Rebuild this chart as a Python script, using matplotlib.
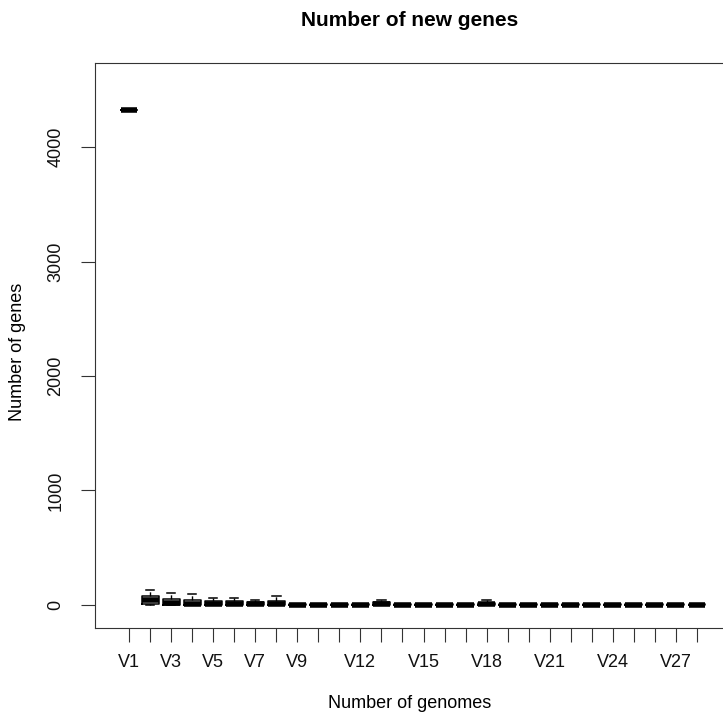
import matplotlib
matplotlib.use("Agg")
import matplotlib.pyplot as plt

plt.rcParams['font.family'] = ['Liberation Sans', 'DejaVu Sans']

genomes = ["V1", "V2", "V3", "V4", "V5", "V6", "V7", "V8", "V9", "V10",
           "V11", "V12", "V13", "V14", "V15", "V16", "V17", "V18", "V19", "V20",
           "V21", "V22", "V23", "V24", "V25", "V26", "V27", "V28"]
shown_labels = ["V1", "V3", "V5", "V7", "V9", "V12", "V15", "V18", "V21", "V24", "V27"]

whisker_low = [4323, 0, 0, 0, 0, 0, 0, 0, 0, 0,
               0, 0, 0, 0, 0, 0, 0, 0, 0, 0,
               0, 0, 0, 0, 0, 0, 0, 0]
q1 = [4323, 8, 3, 3, 3, 3, 2, 3, 0, 0,
      0, 0, 0, 0, 0, 0, 0, 0, 0, 0,
      0, 0, 0, 0, 0, 0, 0, 0]
median = [4323, 40, 15, 12, 10, 10, 8, 10, 4, 4,
          4, 4, 5, 3, 4, 3, 4, 5, 4, 4,
          3, 3, 4, 3, 3, 3, 3, 3]
q3 = [4323, 82, 52, 44, 35, 35, 26, 35, 10, 12,
      10, 12, 22, 8, 12, 8, 12, 20, 12, 10,
      8, 8, 12, 8, 8, 8, 8, 8]
whisker_high = [4323, 135, 105, 98, 64, 64, 44, 82, 10, 12,
                10, 12, 43, 8, 12, 8, 12, 43, 12, 10,
                8, 8, 12, 8, 8, 8, 8, 8]

W, H = 723, 719
fig = plt.figure(figsize=(W / 100, H / 100), dpi=100)
left, right, top, bottom = 95, 731, 63, 628
ax = fig.add_axes([left / W, 1 - bottom / H, (right - left) / W, (bottom - top) / H])

stats = []
for name, lo, a, m, b, hi in zip(genomes, whisker_low, q1, median, q3, whisker_high):
    stats.append(dict(label=name, whislo=lo, q1=a, med=m, q3=b, whishi=hi, fliers=[]))

positions = list(range(1, len(genomes) + 1))
ax.bxp(stats, positions=positions, widths=0.8, showfliers=False,
       boxprops=dict(color='black', linewidth=1.1),
       medianprops=dict(color='black', linewidth=4.0, solid_capstyle='butt'),
       whiskerprops=dict(color='black', linewidth=1.0, linestyle=(0, (3, 3))),
       capprops=dict(color='black', linewidth=1.1),
       capwidths=0.4)

n = len(genomes)
ax.set_xlim(0.5 - 0.04 * n, n + 0.5 + 0.04 * n)
ax.set_ylim(-201, 4734)
ax.set_xticks(positions)
ax.set_xticklabels([g if g in shown_labels else "" for g in genomes])
ax.set_yticks([0, 1000, 2000, 3000, 4000])
ax.set_yticklabels(["0", "1000", "2000", "3000", "4000"], rotation=90, va='center')

ax.tick_params(axis='both', direction='out', length=10, width=0.8, color='#333333',
               labelsize=13, labelcolor='#111111')
ax.tick_params(axis='x', pad=9)
ax.tick_params(axis='y', pad=12)
for s in ax.spines.values():
    s.set_linewidth(0.8)
    s.set_color('#333333')

fig.text(410 / W, 1 - 20 / H, "Number of new genes",
         ha='center', va='center', fontsize=15, fontweight='bold')
fig.text(410 / W, 1 - 704 / H, "Number of genomes", ha='center', va='center', fontsize=13)
fig.text(18 / W, 1 - 352 / H, "Number of genes", ha='center', va='center',
         fontsize=13, rotation=90)

fig.savefig("out.png", dpi=100)
